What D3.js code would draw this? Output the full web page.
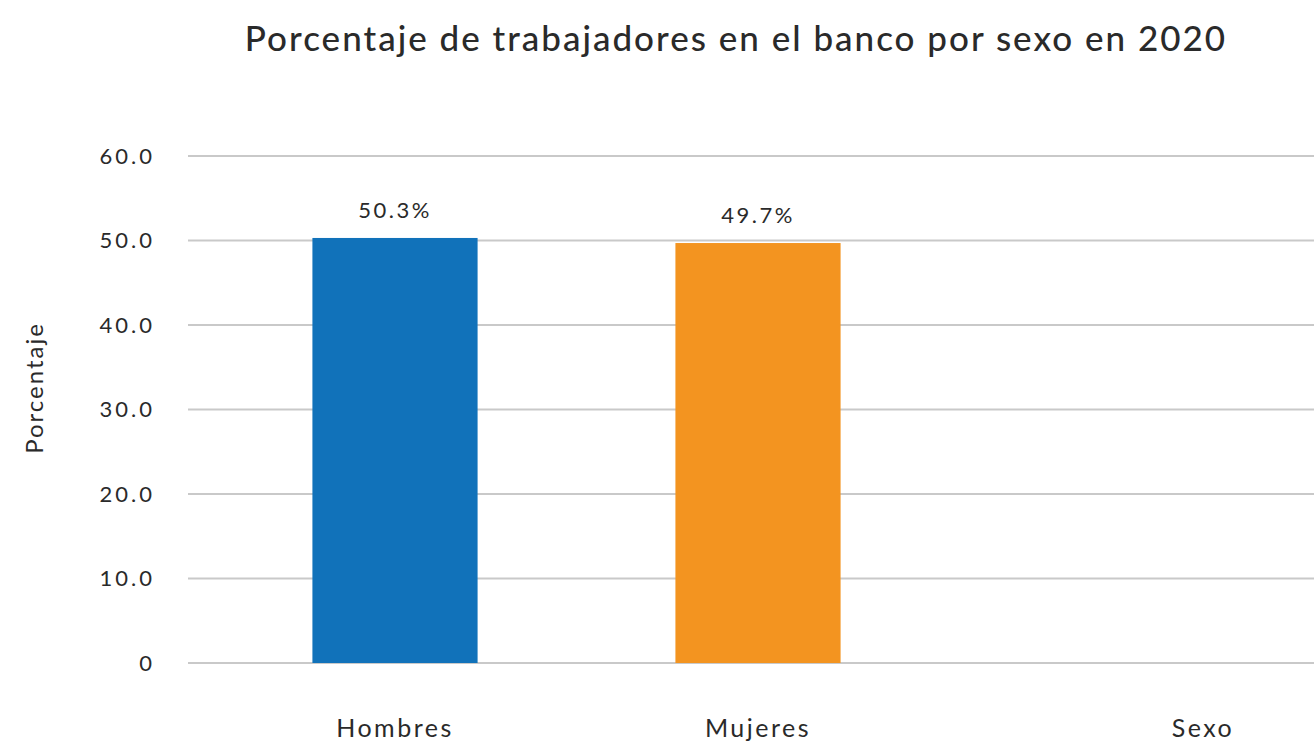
<!DOCTYPE html>
<html>
<head>
<meta charset="utf-8">
<script src="https://cdn.jsdelivr.net/npm/d3@7"></script>
<style>
  body { margin: 0; background: #fff; }
  text { font-family: Lato, "Open Sans", sans-serif; fill: #2a2a2a; }
</style>
</head>
<body>
<div id="chart"></div>
<script>
const categories = ['Hombres', 'Mujeres', 'Sexo']
const values = [50.3, 49.7]
const barColors = ['#1172ba', '#f39420']
const yTicks = [0, 10, 20, 30, 40, 50, 60]
const tickLabels = ['0', '10.0', '20.0', '30.0', '40.0', '50.0', '60.0']

const dms = {
    width: 1314,
    height: 745,
    gridLeft: 188,
    gridRight: 1314,
    top: 156,
    bottom: 663
}

const svg = d3.select('#chart').append('svg')
    .attr('width', dms.width)
    .attr('height', dms.height)

const yScale = d3.scaleLinear()
    .domain([0, 60])
    .range([dms.bottom, dms.top])

const xScale = d3.scaleBand()
    .domain(categories)
    .range([213.5, 1302.5])
    .paddingInner(0.545)
    .paddingOuter(0.2725)

// grid
svg.append('g')
    .selectAll('line')
    .data(yTicks)
    .join('line')
    .attr('x1', dms.gridLeft)
    .attr('x2', dms.gridRight)
    .attr('y1', d => yScale(d))
    .attr('y2', d => yScale(d))
    .attr('stroke', '#c9c9c9')
    .attr('stroke-width', 2)

// y tick labels
svg.append('g')
    .selectAll('text')
    .data(yTicks)
    .join('text')
    .attr('x', 155)
    .attr('y', d => yScale(d))
    .attr('dy', '0.35em')
    .attr('text-anchor', 'end')
    .style('font-size', '22px')
    .style('letter-spacing', '3px')
    .text((d, i) => tickLabels[i])

// bars
const barData = values.map((v, i) => ({ cat: categories[i], v, c: barColors[i] }))

svg.append('g')
    .selectAll('rect')
    .data(barData)
    .join('rect')
    .attr('x', d => xScale(d.cat))
    .attr('y', d => yScale(d.v))
    .attr('width', xScale.bandwidth())
    .attr('height', d => yScale(0) - yScale(d.v))
    .attr('fill', d => d.c)

svg.append('g')
    .selectAll('text')
    .data(barData)
    .join('text')
    .attr('x', d => xScale(d.cat) + xScale.bandwidth() / 2)
    .attr('y', d => yScale(d.v) - 20)
    .attr('text-anchor', 'middle')
    .style('font-size', '22px')
    .style('letter-spacing', '2.5px')
    .text(d => d.v.toFixed(1) + '%')

// category labels
svg.append('g')
    .selectAll('text')
    .data(categories)
    .join('text')
    .attr('x', (d, i) => i < 2 ? xScale(d) + xScale.bandwidth() / 2 : 1203)
    .attr('y', 737)
    .attr('text-anchor', 'middle')
    .style('font-size', '25px')
    .style('letter-spacing', '2.5px')
    .text(d => d)

// axis title
svg.append('text')
    .attr('transform', 'translate(43,388) rotate(-90)')
    .attr('text-anchor', 'middle')
    .style('font-size', '24px')
    .style('letter-spacing', '2px')
    .text('Porcentaje')

// title
svg.append('text')
    .attr('x', 736)
    .attr('y', 51)
    .attr('text-anchor', 'middle')
    .style('font-size', '35px')
    .style('font-weight', '500')
    .style('letter-spacing', '2px')
    .text('Porcentaje de trabajadores en el banco por sexo en 2020')
</script>
</body>
</html>
